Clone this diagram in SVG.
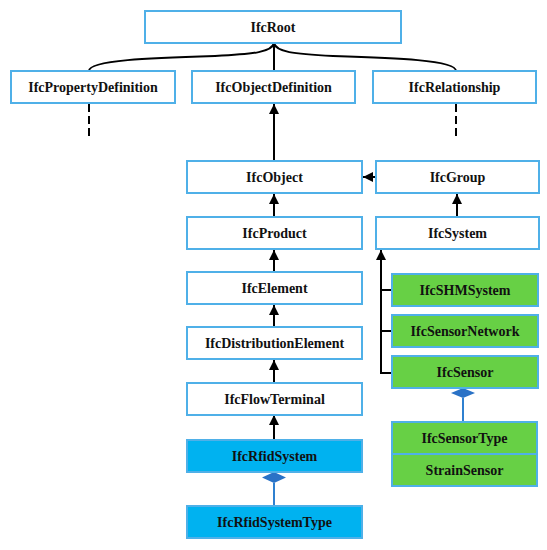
<svg xmlns="http://www.w3.org/2000/svg" width="547" height="550" viewBox="0 0 547 550">
<defs>
<style>
.box{fill:#ffffff;stroke:#4fb0e8;stroke-width:2}
.green{fill:#67d045;stroke:#4fb0e8;stroke-width:2}
.blue{fill:#00b2f0;stroke:#4fb0e8;stroke-width:2}
.t{font-family:"Liberation Serif","Times New Roman",serif;font-weight:bold;font-size:14px;fill:#111111;text-anchor:middle}
.ln{fill:none;stroke:#000000;stroke-width:2}
.dash{fill:none;stroke:#000000;stroke-width:2;stroke-dasharray:8,4}
.agg{fill:none;stroke:#2f80d0;stroke-width:2}
.dia{fill:#2a72c6;stroke:none}
</style>
<marker id="ah" viewBox="0 0 10 10" refX="10" refY="5" markerWidth="5" markerHeight="5" orient="auto" markerUnits="strokeWidth">
<path d="M0,0 L10,5 L0,10 z" fill="#000000"/>
</marker>
</defs>
<rect width="547" height="550" fill="#ffffff"/>
<g id="connectors">
<path class="ln" d="M274,43 L274,71"/>
<path class="ln" d="M89,71 C89,60 150,58 215,56 C255,54 272,52 274,43"/>
<path class="ln" d="M456,71 C456,60 395,58 333,56 C293,54 276,52 274,43"/>
<path class="dash" d="M89,104 L89,140"/>
<path class="dash" d="M456,104 L456,140"/>
<path class="ln" marker-end="url(#ah)" d="M274,161 L274,104"/>
<path class="ln" marker-end="url(#ah)" d="M376,177 L363,177"/>
<path class="ln" marker-end="url(#ah)" d="M457,217 L457,194"/>
<path class="ln" marker-end="url(#ah)" d="M274,217 L274,194"/>
<path class="ln" marker-end="url(#ah)" d="M274,272 L274,250"/>
<path class="ln" marker-end="url(#ah)" d="M274,327 L274,305"/>
<path class="ln" marker-end="url(#ah)" d="M274,383 L274,360"/>
<path class="ln" marker-end="url(#ah)" d="M274,440 L274,415"/>
<path class="ln" marker-end="url(#ah)" d="M381,373 L381,250"/>
<path class="ln" d="M380,290 L392,290 M380,331 L392,331 M380,373 L392,373"/>
<path class="agg" d="M274,483 L274,506"/>
<path class="dia" d="M274,472 L286,477.5 L274,483 L262,477.5 z"/>
<path class="agg" d="M463,398 L463,422"/>
<path class="dia" d="M463,388 L475,393 L463,398 L451,393 z"/>
</g>
<g id="IfcRoot"><rect class="box" x="145" y="11" width="256" height="32"/><text class="t" x="273" y="32">IfcRoot</text></g>
<g id="IfcPropertyDefinition"><rect class="box" x="11" y="71" width="164" height="32"/><text class="t" x="93" y="92">IfcPropertyDefinition</text></g>
<g id="IfcObjectDefinition"><rect class="box" x="192" y="71" width="163" height="32"/><text class="t" x="273.5" y="92">IfcObjectDefinition</text></g>
<g id="IfcRelationship"><rect class="box" x="373" y="71" width="163" height="32"/><text class="t" x="454.5" y="92">IfcRelationship</text></g>
<g id="IfcObject"><rect class="box" x="187" y="161" width="175" height="32"/><text class="t" x="274.5" y="182">IfcObject</text></g>
<g id="IfcGroup"><rect class="box" x="376" y="161" width="163" height="32"/><text class="t" x="457.5" y="182">IfcGroup</text></g>
<g id="IfcProduct"><rect class="box" x="187" y="217" width="175" height="32"/><text class="t" x="274.5" y="238">IfcProduct</text></g>
<g id="IfcSystem"><rect class="box" x="376" y="217" width="163" height="32"/><text class="t" x="457.5" y="238">IfcSystem</text></g>
<g id="IfcElement"><rect class="box" x="187" y="272" width="175" height="32"/><text class="t" x="274.5" y="293">IfcElement</text></g>
<g id="IfcDistributionElement"><rect class="box" x="187" y="327" width="175" height="32"/><text class="t" x="274.5" y="348">IfcDistributionElement</text></g>
<g id="IfcFlowTerminal"><rect class="box" x="187" y="383" width="175" height="32"/><text class="t" x="274.5" y="404">IfcFlowTerminal</text></g>
<g id="IfcRfidSystem"><rect class="blue" x="187" y="440" width="175" height="32"/><text class="t" x="274.5" y="461">IfcRfidSystem</text></g>
<g id="IfcRfidSystemType"><rect class="blue" x="187" y="506" width="175" height="32"/><text class="t" x="274.5" y="527">IfcRfidSystemType</text></g>
<g id="IfcSHMSystem"><rect class="green" x="392" y="274" width="146" height="32"/><text class="t" x="465" y="295">IfcSHMSystem</text></g>
<g id="IfcSensorNetwork"><rect class="green" x="392" y="315" width="146" height="32"/><text class="t" x="465" y="336">IfcSensorNetwork</text></g>
<g id="IfcSensor"><rect class="green" x="392" y="356" width="146" height="32"/><text class="t" x="465" y="377">IfcSensor</text></g>
<g id="IfcSensorType"><rect class="green" x="392" y="422" width="145" height="64"/><line x1="392" y1="454" x2="537" y2="454" stroke="#4fb0e8" stroke-width="2"/><text class="t" x="464.5" y="443">IfcSensorType</text><text class="t" x="464.5" y="475">StrainSensor</text></g>
</svg>
